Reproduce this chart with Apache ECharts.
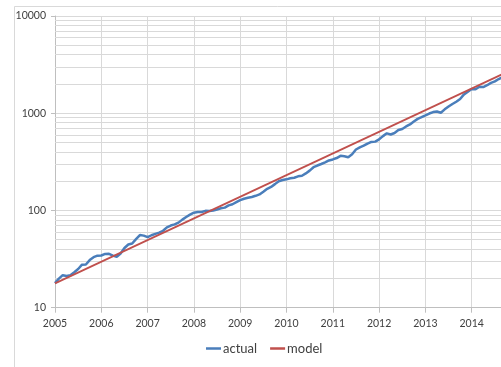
<!DOCTYPE html>
<html><head><meta charset="utf-8">
<script src="https://cdn.jsdelivr.net/npm/echarts@6/dist/echarts.min.js"></script>
<style>html,body{margin:0;padding:0;background:#fff;overflow:hidden;width:501px;height:367px}#c{width:540px;height:367px}</style>
</head><body><div id="c"></div>
<script>
// ---- data ----
const startYear = 2005;           // first monthly observation (Jan 2005)
const actualMonthly = [
  17.9, 19.9, 21.6, 21.2, 21.6, 23.2, 25.0, 27.7, 27.8, 30.9, 33.1, 34.3,
  34.4, 35.7, 35.8, 34.3, 33.4, 36.1, 41.1, 44.7, 45.7, 50.8, 55.9, 55.1,
  53.1, 55.6, 57.5, 59.2, 61.8, 67.1, 70.0, 71.9, 75.0, 80.5, 85.6, 90.6,
  94.8, 96.6, 96.4, 99.1, 98.7, 100.1, 102.5, 105.2, 107.0, 112.7, 115.9, 121.6,
  127.5, 132.1, 135.3, 137.8, 141.5, 146.2, 155.9, 167.0, 174.6, 186.6, 199.9, 205.6,
  209.0, 214.1, 217.2, 224.4, 227.6, 240.4, 256.9, 278.5, 289.8, 300.5, 312.6, 327.0,
  334.9, 346.0, 364.7, 360.5, 352.2, 377.8, 423.6, 445.8, 463.4, 486.8, 507.0, 510.5,
  539, 581.6, 621, 605, 625.6, 671.5, 689, 731, 767, 822, 875, 912,
  951, 993, 1028, 1041, 1012, 1096, 1172, 1244, 1313, 1400, 1561, 1667,
  1774, 1766, 1874, 1859, 1941, 2051, 2124, 2248, 2355
];
const modelYears = [2005, 2015];
const modelValues = [17.8, 3000];
const seriesNames = ['actual', 'model'];
const yearMin = 2005, yearMax = 2015;
const logMin = 10, logMax = 10000;
const minorMultipliers = [2, 3, 4, 5, 6, 7, 8, 9];
const decades = [10, 100, 1000];

// ---- build ----
const actualData = actualMonthly.map((v, i) => [startYear + i / 12, v]);
const modelData = modelYears.map((y, i) => [y, modelValues[i]]);
const minorLines = [];
decades.forEach(d => minorMultipliers.forEach(m => minorLines.push({ yAxis: d * m })));

const font = 'Lato, "Open Sans", sans-serif';
const gridColor = '#d9d9d9';

const chart = echarts.init(document.getElementById('c'), null, { renderer: 'canvas' });
chart.setOption({
  animation: false,
  backgroundColor: '#ffffff',
  graphic: [{
    type: 'rect', left: 12, top: 4, silent: true, z: -10,
    shape: { width: 560, height: 420 },
    style: { fill: 'none', stroke: '#d9d9d9', lineWidth: 1 }
  }],
  grid: { left: 55, top: 16, right: 22, bottom: 59.3, containLabel: false },
  xAxis: {
    type: 'value', min: yearMin, max: yearMax, interval: 1,
    axisLine: { show: true, lineStyle: { color: '#bfbfbf', width: 1 } },
    axisTick: { show: true, length: 5, lineStyle: { color: '#bfbfbf' } },
    axisLabel: { color: '#404040', fontFamily: font, fontSize: 10.5, margin: 10,
      formatter: v => String(v) },
    splitLine: { show: true, lineStyle: { color: gridColor, width: 1 } }
  },
  yAxis: {
    type: 'log', logBase: 10, min: logMin, max: logMax,
    axisLine: { show: true, lineStyle: { color: '#bfbfbf', width: 1 } },
    axisTick: { show: true, length: 4, lineStyle: { color: '#bfbfbf' } },
    axisLabel: { color: '#404040', fontFamily: font, fontSize: 10.5, margin: 9,
      formatter: v => String(v) },
    splitLine: { show: true, lineStyle: { color: gridColor, width: 1 } },
    minorTick: { show: false }, minorSplitLine: { show: false }
  },
  legend: {
    data: seriesNames, top: 342, left: 206, padding: 0,
    icon: 'rect', itemWidth: 15, itemHeight: 2.5, itemGap: 13,
    textStyle: { color: '#404040', fontFamily: font, fontSize: 13, padding: [0, 0, 0, -3] }
  },
  series: [
    {
      name: seriesNames[0], type: 'line', data: actualData, symbol: 'none',
      smooth: false, z: 3,
      lineStyle: { color: '#4a7ebb', width: 2.5 }, itemStyle: { color: '#4a7ebb' },
      markLine: {
        silent: true, symbol: 'none', z: 1, animation: false,
        label: { show: false },
        lineStyle: { color: gridColor, type: 'solid', width: 1 },
        emphasis: { disabled: true },
        data: minorLines
      }
    },
    {
      name: seriesNames[1], type: 'line', data: modelData, symbol: 'none', z: 4,
      lineStyle: { color: '#c0504d', width: 1.75 }, itemStyle: { color: '#c0504d' }
    }
  ]
});
</script></body></html>
